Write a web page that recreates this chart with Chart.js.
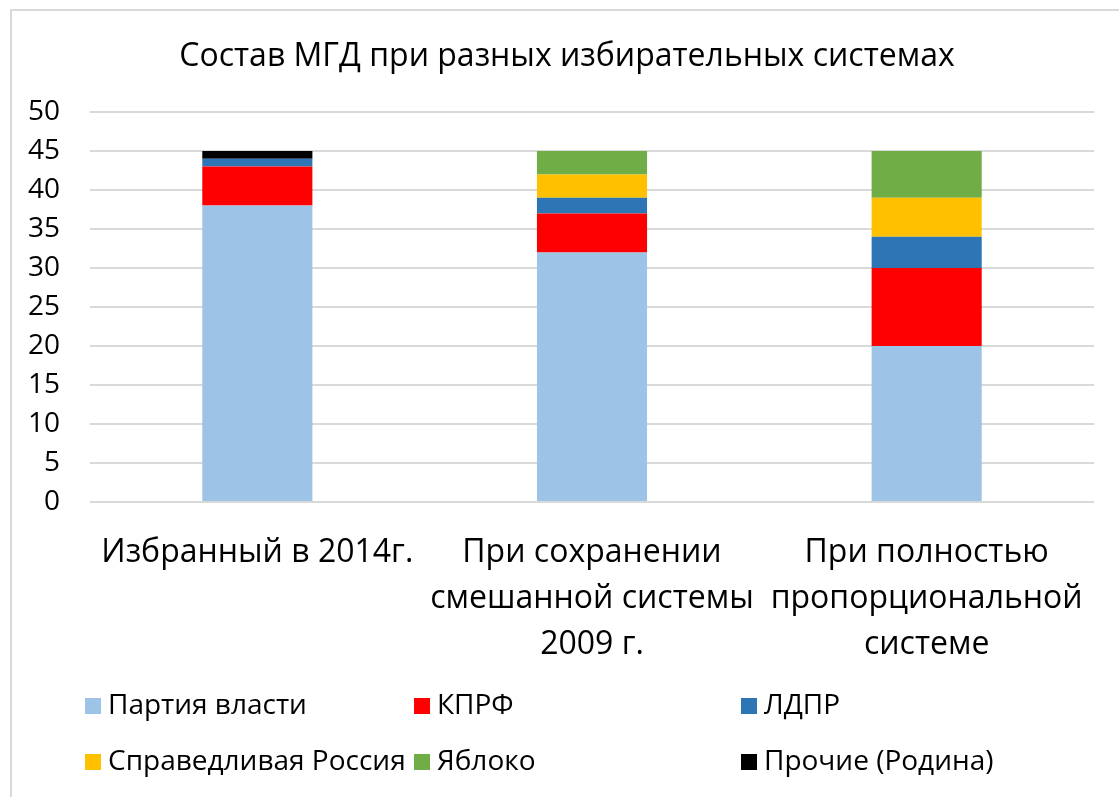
<!DOCTYPE html>
<html>
<head>
<meta charset="utf-8">
<script src="https://cdn.jsdelivr.net/npm/chart.js@4/dist/chart.umd.min.js"></script>
<style>
  html, body { margin: 0; padding: 0; background: #fff; overflow: hidden; }
  #frame { position: absolute; left: 10px; top: 9px; width: 1300px; height: 1000px; border: 2px solid #d9d9d9; box-sizing: border-box; }
  #c { position: absolute; left: 0; top: 0; }
</style>
</head>
<body>
<div id="frame"></div>
<canvas id="c" width="1119" height="797"></canvas>
<script>
const categories = [
  ["Избранный в 2014г."],
  ["При сохранении", "смешанной системы", "2009 г."],
  ["При полностью", "пропорциональной", "системе"]
];
const seriesNames = ["Партия власти", "КПРФ", "ЛДПР", "Справедливая Россия", "Яблоко", "Прочие (Родина)"];
const partyOfPower = [38, 32, 20];
const kprf = [5, 5, 10];
const ldpr = [1, 2, 4];
const fairRussia = [0, 3, 5];
const yabloko = [0, 3, 6];
const others = [1, 0, 0];
const yTicks = [0, 5, 10, 15, 20, 25, 30, 35, 40, 45, 50];
const titleText = "Состав МГД при разных избирательных системах";

const colors = ["#9DC3E6", "#FF0000", "#2E75B6", "#FFC000", "#70AD47", "#000000"];
const seriesValues = [partyOfPower, kprf, ldpr, fairRussia, yabloko, others];

const FONT = "'Open Sans', sans-serif";

const titleAndLegend = {
  id: 'titleAndLegend',
  afterDraw(chart) {
    const ctx = chart.ctx;
    ctx.save();
    // title
    ctx.font = "32px " + FONT;
    ctx.fillStyle = '#000';
    ctx.textAlign = 'center';
    ctx.textBaseline = 'middle';
    ctx.fillText(titleText, 567, 57);
    // legend
    const cols = [85, 414, 741];
    const rows = [706, 762];
    const box = 16;
    ctx.font = "28px " + FONT;
    ctx.textAlign = 'left';
    chart.data.datasets.forEach((ds, i) => {
      const x = cols[i % 3];
      const y = rows[Math.floor(i / 3)];
      ctx.fillStyle = ds.backgroundColor;
      ctx.fillRect(x, y - box / 2, box, box);
      ctx.fillStyle = '#000';
      ctx.fillText(ds.label, x + box + 7, y);
    });
    ctx.restore();
  }
};

new Chart(document.getElementById('c'), {
  type: 'bar',
  data: {
    labels: categories,
    datasets: seriesNames.map((name, i) => ({
      label: name,
      data: seriesValues[i],
      backgroundColor: colors[i],
      borderWidth: 0,
      barPercentage: 0.329,
      categoryPercentage: 1.0
    }))
  },
  options: {
    responsive: false,
    animation: false,
    layout: { padding: { left: 0, right: 25, top: 112, bottom: 129 } },
    plugins: {
      legend: { display: false },
      tooltip: { enabled: false },
      title: { display: false }
    },
    scales: {
      x: {
        stacked: true,
        grid: { display: false, drawTicks: false },
        border: { display: false },
        ticks: {
          color: '#000',
          font: { family: FONT, size: 32, lineHeight: 1.4375 },
          padding: 28,
          maxRotation: 0,
          autoSkip: false
        },
        afterFit(scale) { scale.height = 166; }
      },
      y: {
        stacked: true,
        min: 0,
        max: 50,
        afterBuildTicks(scale) { scale.ticks = yTicks.map(v => ({ value: v })); },
        grid: { color: '#d9d9d9', lineWidth: 2, drawTicks: false },
        border: { display: false },
        ticks: {
          color: '#000',
          font: { family: FONT, size: 28 },
          padding: 30
        },
        afterFit(scale) { scale.width = 90; }
      }
    }
  },
  plugins: [titleAndLegend]
});
</script>
</body>
</html>
